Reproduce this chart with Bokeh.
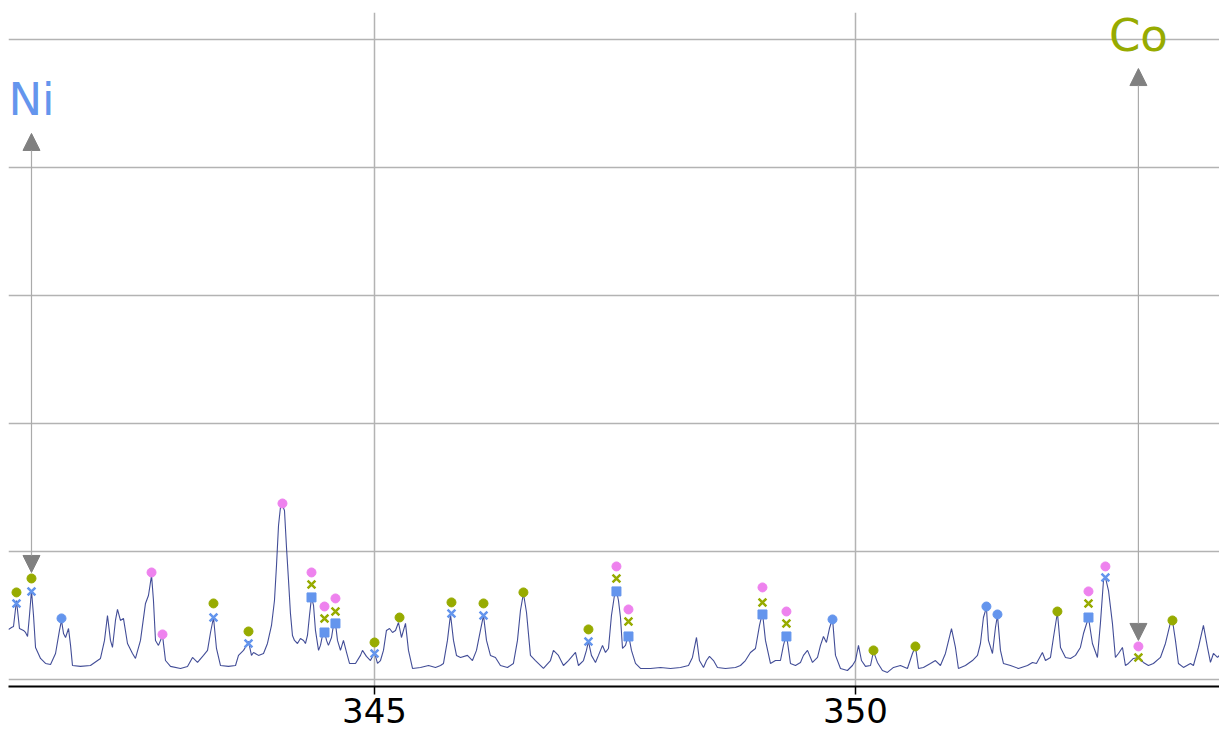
from bokeh.plotting import figure
from bokeh.models import Range1d, FixedTicker, Arrow, NormalHead, Label
from bokeh.embed import file_html
from bokeh.resources import INLINE

# Spectrum (wavelength in nm, intensity in counts)
wavelength = [341.195, 341.226, 341.247, 341.278, 341.309, 341.351, 341.372, 341.393, 341.413, 341.434,
              341.455, 341.476, 341.528, 341.580, 341.632, 341.684, 341.725, 341.746, 341.767, 341.788,
              341.819, 341.840, 341.860, 341.943, 342.047, 342.151, 342.193, 342.224, 342.255, 342.276,
              342.307, 342.328, 342.359, 342.390, 342.432, 342.484, 342.515, 342.567, 342.619, 342.650,
              342.682, 342.702, 342.723, 342.754, 342.796, 342.827, 342.879, 342.983, 343.056, 343.108,
              343.160, 343.222, 343.264, 343.295, 343.326, 343.357, 343.399, 343.482, 343.555, 343.586,
              343.638, 343.669, 343.690, 343.721, 343.742, 343.794, 343.846, 343.887, 343.929, 343.960,
              343.981, 344.002, 344.022, 344.043, 344.064, 344.085, 344.106, 344.126, 344.147, 344.168,
              344.199, 344.230, 344.262, 344.282, 344.303, 344.324, 344.345, 344.366, 344.386, 344.418,
              344.438, 344.459, 344.480, 344.501, 344.521, 344.553, 344.573, 344.594, 344.615, 344.646,
              344.677, 344.709, 344.740, 344.802, 344.854, 344.875, 344.916, 344.958, 345.000, 345.031,
              345.062, 345.093, 345.124, 345.156, 345.187, 345.218, 345.249, 345.280, 345.322, 345.353,
              345.395, 345.478, 345.561, 345.634, 345.686, 345.717, 345.758, 345.790, 345.821, 345.852,
              345.894, 345.966, 346.018, 346.060, 346.101, 346.133, 346.164, 346.205, 346.257, 346.309,
              346.382, 346.444, 346.486, 346.517, 346.548, 346.580, 346.621, 346.673, 346.756, 346.829,
              346.860, 346.912, 346.964, 347.016, 347.089, 347.120, 347.172, 347.203, 347.224, 347.255,
              347.297, 347.328, 347.370, 347.401, 347.432, 347.463, 347.494, 347.515, 347.536, 347.557,
              347.578, 347.609, 347.640, 347.671, 347.713, 347.765, 347.869, 347.973, 348.077, 348.180,
              348.264, 348.305, 348.347, 348.378, 348.420, 348.451, 348.482, 348.524, 348.565, 348.648,
              348.752, 348.804, 348.856, 348.908, 348.960, 349.002, 349.033, 349.064, 349.116, 349.168,
              349.220, 349.251, 349.282, 349.324, 349.376, 349.428, 349.459, 349.501, 349.553, 349.605,
              349.636, 349.667, 349.698, 349.729, 349.761, 349.792, 349.844, 349.916, 349.968, 350.000,
              350.031, 350.062, 350.104, 350.156, 350.187, 350.228, 350.280, 350.332, 350.395, 350.467,
              350.540, 350.592, 350.623, 350.655, 350.706, 350.779, 350.831, 350.883, 350.935, 350.998,
              351.039, 351.070, 351.143, 351.216, 351.268, 351.299, 351.330, 351.361, 351.382, 351.424,
              351.455, 351.476, 351.507, 351.538, 351.611, 351.694, 351.788, 351.840, 351.881, 351.943,
              351.975, 352.027, 352.058, 352.099, 352.131, 352.183, 352.235, 352.287, 352.338, 352.370,
              352.422, 352.463, 352.515, 352.546, 352.578, 352.598, 352.630, 352.671, 352.702, 352.734,
              352.775, 352.806, 352.837, 352.889, 352.941, 352.993, 353.045, 353.097, 353.170, 353.222,
              353.274, 353.295, 353.326, 353.357, 353.409, 353.482, 353.513, 353.565, 353.617, 353.659,
              353.690, 353.721, 353.763, 353.783]
intensity = [391, 406, 414, 617, 398, 383, 367, 336, 500, 695,
             500, 250, 164, 125, 117, 203, 383, 461, 359, 328,
             398, 266, 109, 102, 109, 164, 305, 500, 305, 250,
             461, 547, 461, 477, 281, 203, 164, 305, 594, 656,
             813, 617, 305, 266, 344, 148, 102, 86, 102, 172,
             133, 188, 227, 367, 484, 242, 109, 102, 109, 188,
             227, 266, 297, 188, 211, 188, 203, 281, 422, 617,
             891, 1203, 1344, 1359, 1320, 1031, 773, 516, 344, 305,
             281, 320, 305, 281, 344, 500, 641, 578, 383, 227,
             266, 344, 375, 305, 266, 328, 422, 438, 305, 227,
             305, 211, 125, 125, 188, 227, 180, 148, 211, 125,
             148, 227, 383, 398, 367, 383, 445, 328, 438, 227,
             86, 94, 109, 94, 109, 125, 305, 508, 305, 188,
             172, 188, 148, 227, 383, 500, 305, 188, 172, 109,
             94, 125, 305, 539, 672, 523, 188, 148, 86, 148,
             227, 188, 109, 148, 211, 109, 148, 227, 297, 188,
             133, 188, 266, 211, 242, 500, 656, 695, 617, 484,
             242, 266, 352, 227, 125, 86, 86, 94, 86, 94,
             109, 172, 328, 148, 94, 148, 180, 148, 94, 86,
             94, 109, 148, 211, 242, 422, 523, 305, 125, 148,
             148, 266, 352, 125, 109, 133, 188, 227, 133, 172,
             266, 336, 289, 398, 477, 188, 86, 70, 109, 148,
             266, 148, 102, 109, 219, 133, 70, 55, 94, 109,
             86, 203, 258, 86, 94, 125, 148, 109, 203, 398,
             250, 86, 109, 148, 188, 281, 484, 563, 305, 203,
             406, 500, 227, 125, 109, 86, 109, 133, 125, 211,
             148, 172, 328, 523, 250, 172, 164, 188, 250, 359,
             484, 281, 172, 438, 773, 797, 695, 438, 172, 203,
             250, 109, 125, 164, 172, 133, 109, 125, 172, 281,
             445, 461, 305, 125, 94, 125, 109, 250, 422, 250,
             133, 203, 172, 188]

# Identified lines (marker positions)
green_dot_x = [341.278, 341.434, 343.326, 343.690, 345.000, 345.260, 345.800, 346.133, 346.548, 347.224,
               350.187, 350.623, 352.099, 353.295]
green_dot_y = [680, 789, 594, 375, 289, 484, 602, 594, 680, 391, 227, 258, 531, 461]

pink_dot_x = [342.682, 342.796, 344.043, 344.345, 344.480, 344.594, 347.515, 347.640, 349.033, 349.282,
              352.422, 352.598, 352.941]
pink_dot_y = [836, 352, 1375, 836, 570, 633, 883, 547, 719, 531, 688, 883, 258]

blue_dot_x = [341.746, 349.761, 351.361, 351.476]
blue_dot_y = [477, 469, 570, 508]

blue_x_x = [341.278, 341.434, 343.326, 343.690, 345.000, 345.800, 346.133, 347.224, 352.598]
blue_x_y = [594, 688, 484, 281, 203, 516, 500, 297, 797]

green_x_x = [344.345, 344.480, 344.594, 347.515, 347.640, 349.033, 349.282, 352.422, 352.941]
green_x_y = [742, 477, 531, 789, 453, 602, 438, 594, 172]

blue_sq_x = [344.345, 344.480, 344.594, 347.515, 347.640, 349.033, 349.282, 352.422]
blue_sq_y = [641, 367, 438, 688, 336, 508, 336, 484]

# Element line labels with arrows
element_names = ["Ni", "Co"]
element_x = [341.434, 352.941]
element_low = [836, 305]
element_high = [4266, 4773]
element_label_y = [4531, 5031]
element_colors = ["#6495ed", "#97ab00"]

GREEN = "#97ab00"
PINK = "#ee82ee"
BLUE = "#6495ed"

p = figure(width=1219, height=734, output_backend="svg", toolbar_location=None,
           x_range=Range1d(341.195, 353.784), y_range=Range1d(-55, 5211),
           min_border_left=8, min_border_right=0, min_border_top=12, min_border_bottom=48)
p.outline_line_color = None
p.background_fill_color = "white"

p.yaxis.visible = False
yt = FixedTicker(ticks=[0, 1000, 2000, 3000, 4000, 5000])
xt = FixedTicker(ticks=[340, 345, 350, 355])
p.yaxis.ticker = yt
p.xaxis.ticker = xt
p.ygrid.ticker = yt
p.xgrid.ticker = xt
for g in (p.xgrid, p.ygrid):
    g.grid_line_color = "#b3b3b3"
    g.grid_line_width = 1.5

ax = p.xaxis[0]
ax.axis_line_color = "black"
ax.axis_line_width = 2
ax.major_tick_line_color = "black"
ax.major_tick_line_width = 1.5
ax.major_tick_out = 8
ax.major_tick_in = 0
ax.minor_tick_out = 0
ax.minor_tick_in = 0
ax.major_label_standoff = 3
ax.major_label_text_font = "DejaVu Sans"
ax.major_label_text_font_size = "34px"
ax.major_label_text_color = "black"

p.line(wavelength, intensity, line_color="#2e3a8c", line_width=1.1, line_alpha=0.9)

p.scatter(blue_sq_x, blue_sq_y, marker="square", size=9, fill_color=BLUE, line_color=BLUE)
p.scatter(green_x_x, green_x_y, marker="x", size=11, line_color=GREEN, line_width=2.5)
p.scatter(blue_x_x, blue_x_y, marker="x", size=11, line_color=BLUE, line_width=2.5)
p.scatter(blue_dot_x, blue_dot_y, marker="circle", size=9, fill_color=BLUE, line_color=BLUE)
p.scatter(green_dot_x, green_dot_y, marker="circle", size=9, fill_color=GREEN, line_color=GREEN)
p.scatter(pink_dot_x, pink_dot_y, marker="circle", size=9, fill_color=PINK, line_color=PINK)

for name, ex, lo, hi, ly, col in zip(element_names, element_x, element_low, element_high,
                                     element_label_y, element_colors):
    p.add_layout(Arrow(x_start=ex, y_start=lo, x_end=ex, y_end=hi,
                       line_color="#aaaaaa", line_width=1.2,
                       start=NormalHead(size=17, fill_color="#808080", line_color="#808080"),
                       end=NormalHead(size=17, fill_color="#808080", line_color="#808080")))
    p.add_layout(Label(x=ex, y=ly, text=name, text_align="center", text_baseline="alphabetic",
                       text_font="DejaVu Sans", text_font_size="45px", text_color=col))

open("out.html", "w").write(file_html(p, INLINE))
